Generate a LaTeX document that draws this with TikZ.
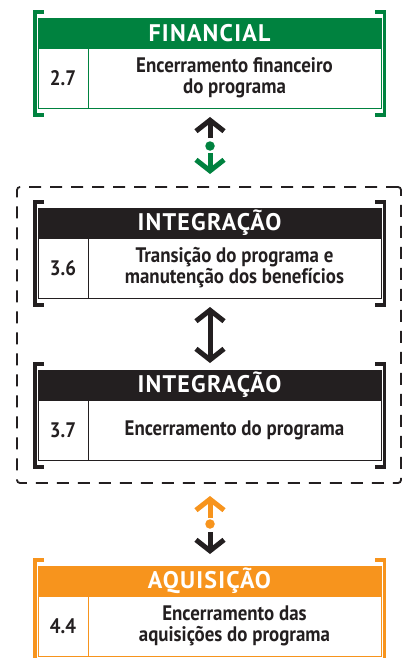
\documentclass[tikz,border=0pt]{standalone}
\usepackage{fontspec}
\setmainfont{PT Sans}
\newfontfamily\headfont[LetterSpace=5.0]{PT Sans}
\newfontfamily\bodyfont[FakeStretch=0.9]{PT Sans}
\usetikzlibrary{arrows.meta}
\definecolor{finGreen}{HTML}{00823F}
\definecolor{intBlack}{HTML}{231F20}
\definecolor{aqOrange}{HTML}{F7941D}

\begin{document}
\begin{tikzpicture}[x=1pt,y=-1pt,
    headbox/.style={fill=#1, draw=#1, line width=0.8pt, minimum width=343pt, minimum height=30pt,
        inner sep=0pt, text=white, font=\headfont\bfseries\fontsize{24}{24}\selectfont},
    numbox/.style={draw=#1, line width=0.8pt, minimum width=50pt, minimum height=60pt,
        inner sep=0pt, text=intBlack, font=\bodyfont\bfseries\fontsize{21}{21}\selectfont},
    txtbox/.style={draw=#1, line width=0.8pt, minimum width=293pt, minimum height=60pt,
        inner sep=0pt, align=center, text=intBlack, font=\bodyfont\bfseries\fontsize{21}{21}\selectfont},
    bracket/.style={draw=#1, line width=3.5pt, miter limit=10},
    arr/.style={draw=#1, line width=5pt, -{Straight Barb[length=11pt,width=28pt]}},
    dbl/.style={draw=#1, line width=5pt, {Straight Barb[length=11pt,width=28pt]}-{Straight Barb[length=11pt,width=28pt]}},
    dot/.style={circle, fill=#1, inner sep=0pt, minimum size=9.5pt},
    dashbox/.style={draw=intBlack, line width=1.8pt, dash pattern=on 12pt off 9pt, rounded corners=3pt,
        minimum width=384pt, minimum height=296pt, inner sep=0pt}]
    \useasboundingbox (0,0) rectangle (405,658);

    % Group frame round the two integration steps
    \node[dashbox] (group) at (209,335) {};

    % Panels: name/top/colour/header/number/text
    \foreach \i/\t/\c/\h/\n/\b in {
        fin/18/finGreen/FINANCIAL/2.7/{Encerramento financeiro\\do programa},
        intA/208/intBlack/INTEGRAÇÃO/3.6/{Transição do programa e\\manutenção dos benefícios},
        intB/370/intBlack/INTEGRAÇÃO/3.7/{Encerramento do programa},
        aq/566/aqOrange/AQUISIÇÃO/4.4/{Encerramento das\\aquisições do programa}}{%
        \node[headbox=\c] (\i-head) at (209.5,\t+15) {\h};
        \node[numbox=\c] (\i-num) at (63,\t+60) {\n};
        \node[txtbox=\c] (\i-txt) at (234.5,\t+60) {\b};
        % brackets on both sides
        \draw[bracket=\c] (44,\t-6) -- (35,\t-6) -- (35,\t+97) -- (44,\t+97);
        \draw[bracket=\c] (375,\t-6) -- (384.5,\t-6) -- (384.5,\t+97) -- (375,\t+97);
    }

    % Connectors between the panels
    \coordinate (finUpS) at (210,138);
    \coordinate (finUpE) at (210,117);
    \node[dot=finGreen] (finDot) at (210,146) {};
    \coordinate (finDnS) at (210,153);
    \coordinate (finDnE) at (210,174);
    \draw[arr=intBlack] (finUpS) -- (finUpE);
    \draw[arr=finGreen] (finDnS) -- (finDnE);

    \coordinate (intS) at (210,307);
    \coordinate (intE) at (210,363);
    \draw[dbl=intBlack] (intS) -- (intE);

    \coordinate (aqUpS) at (210,518);
    \coordinate (aqUpE) at (210,496);
    \node[dot=aqOrange] (aqDot) at (210,524) {};
    \coordinate (aqDnS) at (210,532);
    \coordinate (aqDnE) at (210,554);
    \draw[arr=aqOrange] (aqUpS) -- (aqUpE);
    \draw[arr=intBlack] (aqDnS) -- (aqDnE);
\end{tikzpicture}
\end{document}
